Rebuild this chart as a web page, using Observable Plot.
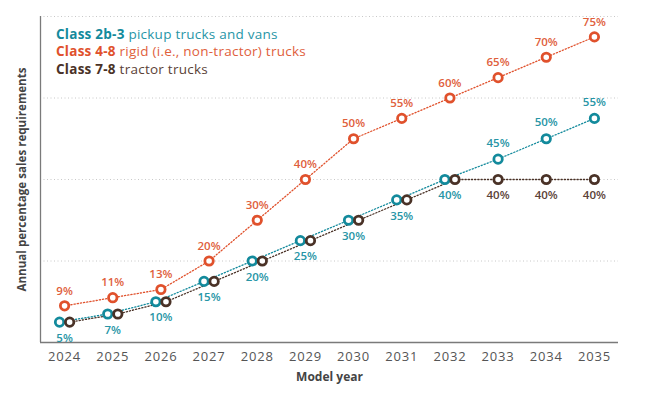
<!DOCTYPE html>
<html>
<head>
<meta charset="utf-8">
<script src="https://cdn.jsdelivr.net/npm/d3@7"></script>
<script src="https://cdn.jsdelivr.net/npm/@observablehq/plot@0.6"></script>
<style>
  body { margin: 0; background: #fff; font-family: "Open Sans", Lato, sans-serif; }
  #wrap { position: relative; width: 650px; height: 395px; }
  #legend { position: absolute; left: 56px; top: 26px; font-size: 13.5px; line-height: 17.3px; letter-spacing: 0.25px; }
  #legend b { font-weight: 700; }
</style>
</head>
<body>
<div id="wrap">
  <div id="chart"></div>
  <div id="legend"></div>
</div>
<script>
const years = [2024, 2025, 2026, 2027, 2028, 2029, 2030, 2031, 2032, 2033, 2034, 2035];
const class2b3 = [5, 7, 10, 15, 20, 25, 30, 35, 40, 45, 50, 55];
const class48 = [9, 11, 13, 20, 30, 40, 50, 55, 60, 65, 70, 75];
const class78 = [5, 7, 10, 15, 20, 25, 30, 35, 40, 40, 40, 40];
const seriesNames = ["Class 2b-3", "Class 4-8", "Class 7-8"];
const seriesDesc = [" pickup trucks and vans", " rigid (i.e., non-tractor) trucks", " tractor trucks"];
const lineColors = ["#138a9c", "#e0512c", "#4a3227"];
const labelColors = ["#2795a6", "#e0603c", "#5b4237"];
const yGrid = [20, 40, 60, 80];
const xTicks = years;

const shift = 0.105; // half-gap between overlapping markers, in years
const teal = years.map((y, i) => ({year: y, v: class2b3[i], overlap: class2b3[i] === class78[i]}));
const red = years.map((y, i) => ({year: y, v: class48[i]}));
const brown = years.map((y, i) => ({year: y, v: class78[i], overlap: class2b3[i] === class78[i]}));
const tealX = d => d.year - (d.overlap ? shift : 0);
const brownX = d => d.year + (d.overlap ? shift : 0);
const fmt = d => d.v + "%";

const labelFont = {fontSize: 11.5, fontWeight: 600};

const chart = Plot.plot({
  width: 650,
  height: 395,
  marginTop: 16,
  marginBottom: 53,
  marginLeft: 40,
  marginRight: 32,
  style: {fontFamily: "'Open Sans', Lato, sans-serif", background: "#fff"},
  x: {domain: [2023.5, 2035.5]},
  y: {domain: [0, 80]},
  marks: [
    Plot.ruleY(yGrid, {stroke: "#c8c8c8", strokeWidth: 1, strokeDasharray: "1,2.5"}),
    Plot.axisX(xTicks, {tickSize: 0, tickPadding: 9, tickFormat: d => String(d), fontSize: 13, fill: "#555",
      label: "Model year", labelAnchor: "center", labelArrow: "none", labelOffset: 38}),
    Plot.axisY({ticks: [], label: "Annual percentage sales requirements", labelAnchor: "center",
      labelArrow: "none", labelOffset: 23, tickSize: 0}),
    Plot.ruleX([2023.5], {stroke: "#7a7a7a", strokeWidth: 1.3}),
    Plot.ruleY([0], {stroke: "#7a7a7a", strokeWidth: 1.3}),
    // lines
    Plot.line(red, {x: "year", y: "v", stroke: lineColors[1], strokeWidth: 1.3, strokeDasharray: "1.2,2"}),
    Plot.line(brown, {x: brownX, y: "v", stroke: lineColors[2], strokeWidth: 1.3, strokeDasharray: "1.2,2"}),
    Plot.line(teal, {x: tealX, y: "v", stroke: lineColors[0], strokeWidth: 1.3, strokeDasharray: "1.2,2"}),
    // markers
    Plot.dot(red, {x: "year", y: "v", r: 4.2, stroke: lineColors[1], strokeWidth: 2.8, fill: "#fff"}),
    Plot.dot(teal, {x: tealX, y: "v", r: 4.2, stroke: lineColors[0], strokeWidth: 2.8, fill: "#fff"}),
    Plot.dot(brown, {x: brownX, y: "v", r: 4.2, stroke: lineColors[2], strokeWidth: 2.8, fill: "#fff"}),
    // labels
    Plot.text(red, {x: "year", y: "v", text: fmt, dy: -15, fill: labelColors[1], ...labelFont}),
    Plot.text(teal, {x: "year", y: "v", text: fmt, filter: d => d.overlap, fill: labelColors[0], ...labelFont, dy: 16}),
    Plot.text(teal, {x: "year", y: "v", text: fmt, filter: d => !d.overlap, fill: labelColors[0], ...labelFont, dy: -16}),
    Plot.text(brown, {x: "year", y: "v", text: fmt, filter: d => !d.overlap, fill: labelColors[2], ...labelFont, dy: 16})
  ]
});

// style axis labels
chart.querySelectorAll("g[aria-label='x-axis label'] text, g[aria-label='y-axis label'] text").forEach(t => {
  t.setAttribute("font-weight", "700");
  t.setAttribute("font-size", "12");
  t.setAttribute("fill", "#444");
});
chart.querySelectorAll("g[aria-label='y-axis label'] text").forEach(t => {
  t.setAttribute("font-size", "11.6");
});
chart.querySelectorAll("g[aria-label='x-axis tick label'] text").forEach(t => {
  t.setAttribute("letter-spacing", "0.8");
});
document.getElementById("chart").appendChild(chart);

const legend = document.getElementById("legend");
seriesNames.forEach((n, i) => {
  const div = document.createElement("div");
  div.style.color = labelColors[i];
  const b = document.createElement("b");
  b.textContent = n;
  b.style.color = lineColors[i];
  div.appendChild(b);
  div.appendChild(document.createTextNode(seriesDesc[i]));
  legend.appendChild(div);
});
</script>
</body>
</html>
